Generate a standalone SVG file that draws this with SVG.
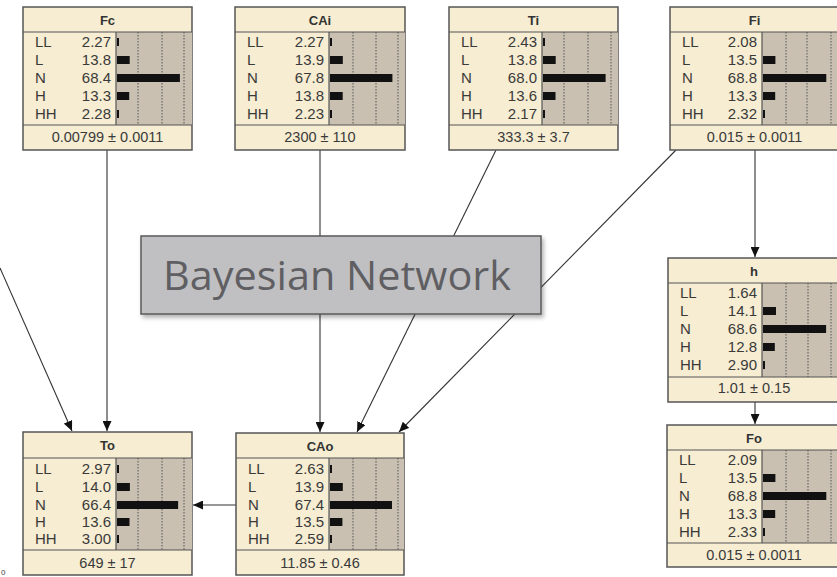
<svg xmlns="http://www.w3.org/2000/svg" width="837" height="577" viewBox="0 0 837 577">
<defs>
<marker id="ah" markerWidth="10" markerHeight="9" refX="10" refY="4.5" orient="auto" markerUnits="userSpaceOnUse">
<path d="M0,0 L10,4.5 L0,9 z" fill="#111"/>
</marker>
<filter id="sh" x="-5%" y="-10%" width="110%" height="130%">
<feDropShadow dx="2" dy="3" stdDeviation="2" flood-color="#000" flood-opacity="0.3"/>
</filter>
</defs>
<style>
.box{fill:#f6edd2;stroke:#555;stroke-width:1.5}
.chart{fill:#c9c0b1}
.sep{stroke:#555;stroke-width:1.2}
.grid{stroke:#555;stroke-width:1;stroke-dasharray:1.5,1.5}
.ttl{font-family:"Liberation Sans",Arial,sans-serif;font-size:13px;font-weight:bold;fill:#333;text-anchor:middle}
.lbl{font-family:"Liberation Sans",Arial,sans-serif;font-size:15px;fill:#3a3a3a}
.val{font-family:"Liberation Sans",Arial,sans-serif;font-size:15px;fill:#3a3a3a;text-anchor:end}
.bot{font-family:"Liberation Sans",Arial,sans-serif;font-size:14.5px;fill:#3a3a3a;text-anchor:middle}
.bar{fill:#111}
.edge{stroke:#333;stroke-width:1.1;fill:none;marker-end:url(#ah)}
</style>
<rect width="837" height="577" fill="#fff"/>

<g id="connectors">
<line class="edge" x1="0" y1="268" x2="72" y2="431"/>
<line class="edge" x1="107" y1="150" x2="107" y2="431"/>
<line class="edge" x1="320" y1="150" x2="320" y2="432"/>
<line class="edge" x1="496" y1="150" x2="357" y2="432"/>
<line class="edge" x1="676" y1="150" x2="399" y2="432"/>
<line class="edge" x1="755" y1="150" x2="755" y2="257"/>
<line class="edge" x1="755" y1="402" x2="755" y2="424"/>
<line class="edge" x1="236" y1="505" x2="193" y2="505"/>
</g>

<g id="node-Fc" transform="translate(23,7)">
<rect class="box" x="0" y="0" width="169" height="143"/>
<rect class="chart" x="93" y="25" width="76" height="93"/>
<line class="grid" x1="115" y1="25" x2="115" y2="118"/><line class="grid" x1="139" y1="25" x2="139" y2="118"/><line class="grid" x1="161" y1="25" x2="161" y2="118"/>
<line class="sep" x1="0" y1="25" x2="169" y2="25"/><line class="sep" x1="0" y1="118" x2="169" y2="118"/><line class="sep" x1="93" y1="25" x2="93" y2="118"/>
<text class="ttl" x="84.5" y="17.5">Fc</text>
<text class="lbl" x="12" y="40">LL</text><text class="lbl" x="12" y="58">L</text><text class="lbl" x="12" y="76">N</text><text class="lbl" x="12" y="94">H</text><text class="lbl" x="12" y="112">HH</text>
<text class="val" x="88" y="40">2.27</text><text class="val" x="88" y="58">13.8</text><text class="val" x="88" y="76">68.4</text><text class="val" x="88" y="94">13.3</text><text class="val" x="88" y="112">2.28</text>
<rect class="bar" x="94" y="31" width="2" height="8"/><rect class="bar" x="94" y="49" width="12.7" height="8"/><rect class="bar" x="94" y="67" width="62.9" height="8"/><rect class="bar" x="94" y="85" width="12.2" height="8"/><rect class="bar" x="94" y="103" width="2" height="8"/>
<text class="bot" x="84.5" y="135">0.00799 ± 0.0011</text>
</g>

<g id="node-CAi" transform="translate(235,7)">
<rect class="box" x="0" y="0" width="170" height="143"/>
<rect class="chart" x="94" y="25" width="76" height="93"/>
<line class="grid" x1="118" y1="25" x2="118" y2="118"/><line class="grid" x1="141" y1="25" x2="141" y2="118"/><line class="grid" x1="163" y1="25" x2="163" y2="118"/>
<line class="sep" x1="0" y1="25" x2="170" y2="25"/><line class="sep" x1="0" y1="118" x2="170" y2="118"/><line class="sep" x1="94" y1="25" x2="94" y2="118"/>
<text class="ttl" x="85" y="17.5">CAi</text>
<text class="lbl" x="12" y="40">LL</text><text class="lbl" x="12" y="58">L</text><text class="lbl" x="12" y="76">N</text><text class="lbl" x="12" y="94">H</text><text class="lbl" x="12" y="112">HH</text>
<text class="val" x="89" y="40">2.27</text><text class="val" x="89" y="58">13.9</text><text class="val" x="89" y="76">67.8</text><text class="val" x="89" y="94">13.8</text><text class="val" x="89" y="112">2.23</text>
<rect class="bar" x="95" y="31" width="2" height="8"/><rect class="bar" x="95" y="49" width="12.8" height="8"/><rect class="bar" x="95" y="67" width="62.4" height="8"/><rect class="bar" x="95" y="85" width="12.7" height="8"/><rect class="bar" x="95" y="103" width="2" height="8"/>
<text class="bot" x="85" y="135">2300 ± 110</text>
</g>

<g id="node-Ti" transform="translate(449,7)">
<rect class="box" x="0" y="0" width="169" height="143"/>
<rect class="chart" x="93" y="25" width="76" height="93"/>
<line class="grid" x1="115" y1="25" x2="115" y2="118"/><line class="grid" x1="139" y1="25" x2="139" y2="118"/><line class="grid" x1="162" y1="25" x2="162" y2="118"/>
<line class="sep" x1="0" y1="25" x2="169" y2="25"/><line class="sep" x1="0" y1="118" x2="169" y2="118"/><line class="sep" x1="93" y1="25" x2="93" y2="118"/>
<text class="ttl" x="84.5" y="17.5">Ti</text>
<text class="lbl" x="12" y="40">LL</text><text class="lbl" x="12" y="58">L</text><text class="lbl" x="12" y="76">N</text><text class="lbl" x="12" y="94">H</text><text class="lbl" x="12" y="112">HH</text>
<text class="val" x="88" y="40">2.43</text><text class="val" x="88" y="58">13.8</text><text class="val" x="88" y="76">68.0</text><text class="val" x="88" y="94">13.6</text><text class="val" x="88" y="112">2.17</text>
<rect class="bar" x="94" y="31" width="2" height="8"/><rect class="bar" x="94" y="49" width="12.7" height="8"/><rect class="bar" x="94" y="67" width="62.6" height="8"/><rect class="bar" x="94" y="85" width="12.5" height="8"/><rect class="bar" x="94" y="103" width="2" height="8"/>
<text class="bot" x="84.5" y="135">333.3 ± 3.7</text>
</g>

<g id="node-Fi" transform="translate(670,7)">
<rect class="box" x="0" y="0" width="172" height="143"/>
<rect class="chart" x="92" y="25" width="80" height="93"/>
<line class="grid" x1="116" y1="25" x2="116" y2="118"/><line class="grid" x1="137" y1="25" x2="137" y2="118"/><line class="grid" x1="161" y1="25" x2="161" y2="118"/>
<line class="sep" x1="0" y1="25" x2="172" y2="25"/><line class="sep" x1="0" y1="118" x2="172" y2="118"/><line class="sep" x1="92" y1="25" x2="92" y2="118"/>
<text class="ttl" x="84.5" y="17.5">Fi</text>
<text class="lbl" x="12" y="40">LL</text><text class="lbl" x="12" y="58">L</text><text class="lbl" x="12" y="76">N</text><text class="lbl" x="12" y="94">H</text><text class="lbl" x="12" y="112">HH</text>
<text class="val" x="87" y="40">2.08</text><text class="val" x="87" y="58">13.5</text><text class="val" x="87" y="76">68.8</text><text class="val" x="87" y="94">13.3</text><text class="val" x="87" y="112">2.32</text>
<rect class="bar" x="93" y="49" width="12.4" height="8"/><rect class="bar" x="93" y="67" width="63.3" height="8"/><rect class="bar" x="93" y="85" width="12.2" height="8"/><rect class="bar" x="93" y="103" width="2" height="8"/>
<text class="bot" x="84.5" y="135">0.015 ± 0.0011</text>
</g>

<g id="node-h" transform="translate(668,258)">
<rect class="box" x="0" y="0" width="174" height="144"/>
<rect class="chart" x="94" y="25" width="80" height="94"/>
<line class="grid" x1="118" y1="25" x2="118" y2="119"/><line class="grid" x1="140" y1="25" x2="140" y2="119"/><line class="grid" x1="163" y1="25" x2="163" y2="119"/>
<line class="sep" x1="0" y1="25" x2="174" y2="25"/><line class="sep" x1="0" y1="119" x2="174" y2="119"/><line class="sep" x1="94" y1="25" x2="94" y2="119"/>
<text class="ttl" x="86" y="17.5">h</text>
<text class="lbl" x="12" y="40">LL</text><text class="lbl" x="12" y="58">L</text><text class="lbl" x="12" y="76">N</text><text class="lbl" x="12" y="94">H</text><text class="lbl" x="12" y="112">HH</text>
<text class="val" x="89" y="40">1.64</text><text class="val" x="89" y="58">14.1</text><text class="val" x="89" y="76">68.6</text><text class="val" x="89" y="94">12.8</text><text class="val" x="89" y="112">2.90</text>
<rect class="bar" x="95" y="49" width="13" height="8"/><rect class="bar" x="95" y="67" width="63.1" height="8"/><rect class="bar" x="95" y="85" width="11.8" height="8"/><rect class="bar" x="95" y="103" width="2" height="8"/>
<text class="bot" x="86" y="135">1.01 ± 0.15</text>
</g>

<g id="node-Fo" transform="translate(667,425)">
<rect class="box" x="0" y="0" width="175" height="142"/>
<rect class="chart" x="95" y="25" width="80" height="93"/>
<line class="grid" x1="119" y1="25" x2="119" y2="118"/><line class="grid" x1="141" y1="25" x2="141" y2="118"/><line class="grid" x1="164" y1="25" x2="164" y2="118"/>
<line class="sep" x1="0" y1="25" x2="175" y2="25"/><line class="sep" x1="0" y1="118" x2="175" y2="118"/><line class="sep" x1="95" y1="25" x2="95" y2="118"/>
<text class="ttl" x="87" y="17.5">Fo</text>
<text class="lbl" x="12" y="40">LL</text><text class="lbl" x="12" y="58">L</text><text class="lbl" x="12" y="76">N</text><text class="lbl" x="12" y="94">H</text><text class="lbl" x="12" y="112">HH</text>
<text class="val" x="90" y="40">2.09</text><text class="val" x="90" y="58">13.5</text><text class="val" x="90" y="76">68.8</text><text class="val" x="90" y="94">13.3</text><text class="val" x="90" y="112">2.33</text>
<rect class="bar" x="96" y="49" width="12.4" height="8"/><rect class="bar" x="96" y="67" width="63.3" height="8"/><rect class="bar" x="96" y="85" width="12.2" height="8"/><rect class="bar" x="96" y="103" width="2" height="8"/>
<text class="bot" x="87" y="135">0.015 ± 0.0011</text>
</g>

<g id="node-To" transform="translate(23,432)">
<rect class="box" x="0" y="0" width="169" height="143"/>
<rect class="chart" x="93" y="26" width="76" height="92"/>
<line class="grid" x1="115" y1="26" x2="115" y2="118"/><line class="grid" x1="139" y1="26" x2="139" y2="118"/><line class="grid" x1="161" y1="26" x2="161" y2="118"/>
<line class="sep" x1="0" y1="26" x2="169" y2="26"/><line class="sep" x1="0" y1="118" x2="169" y2="118"/><line class="sep" x1="93" y1="26" x2="93" y2="118"/>
<text class="ttl" x="84.5" y="18">To</text>
<text class="lbl" x="12" y="42">LL</text><text class="lbl" x="12" y="60">L</text><text class="lbl" x="12" y="78">N</text><text class="lbl" x="12" y="95">H</text><text class="lbl" x="12" y="112">HH</text>
<text class="val" x="88" y="42">2.97</text><text class="val" x="88" y="60">14.0</text><text class="val" x="88" y="78">66.4</text><text class="val" x="88" y="95">13.6</text><text class="val" x="88" y="112">3.00</text>
<rect class="bar" x="94" y="33" width="2" height="8"/><rect class="bar" x="94" y="51" width="12.9" height="8"/><rect class="bar" x="94" y="69" width="61.1" height="8"/><rect class="bar" x="94" y="86" width="12.5" height="8"/><rect class="bar" x="94" y="103" width="2" height="8"/>
<text class="bot" x="84.5" y="136">649 ± 17</text>
</g>

<g id="node-CAo" transform="translate(236,433)">
<rect class="box" x="0" y="0" width="168" height="142"/>
<rect class="chart" x="93" y="25" width="75" height="92"/>
<line class="grid" x1="117" y1="25" x2="117" y2="117"/><line class="grid" x1="140" y1="25" x2="140" y2="117"/><line class="grid" x1="162" y1="25" x2="162" y2="117"/>
<line class="sep" x1="0" y1="25" x2="168" y2="25"/><line class="sep" x1="0" y1="117" x2="168" y2="117"/><line class="sep" x1="93" y1="25" x2="93" y2="117"/>
<text class="ttl" x="84" y="17.5">CAo</text>
<text class="lbl" x="12" y="41">LL</text><text class="lbl" x="12" y="59">L</text><text class="lbl" x="12" y="77">N</text><text class="lbl" x="12" y="94">H</text><text class="lbl" x="12" y="111">HH</text>
<text class="val" x="88" y="41">2.63</text><text class="val" x="88" y="59">13.9</text><text class="val" x="88" y="77">67.4</text><text class="val" x="88" y="94">13.5</text><text class="val" x="88" y="111">2.59</text>
<rect class="bar" x="94" y="32" width="2" height="8"/><rect class="bar" x="94" y="50" width="12.8" height="8"/><rect class="bar" x="94" y="68" width="62" height="8"/><rect class="bar" x="94" y="85" width="12.4" height="8"/><rect class="bar" x="94" y="102" width="2" height="8"/>
<text class="bot" x="84" y="135">11.85 ± 0.46</text>
</g>

<g id="overlay-label">
<rect x="141" y="236" width="400" height="78" fill="#c0c0c2" stroke="#5a5a5a" stroke-width="1.5" filter="url(#sh)"/>
<text x="163" y="290" font-family="'Open Sans','Noto Sans',sans-serif" font-size="41" fill="#5f5f63" textLength="348" lengthAdjust="spacingAndGlyphs">Bayesian Network</text>
</g>

<text x="1" y="575" font-family="'Liberation Sans',Arial,sans-serif" font-size="8" fill="#444">0</text>
</svg>
